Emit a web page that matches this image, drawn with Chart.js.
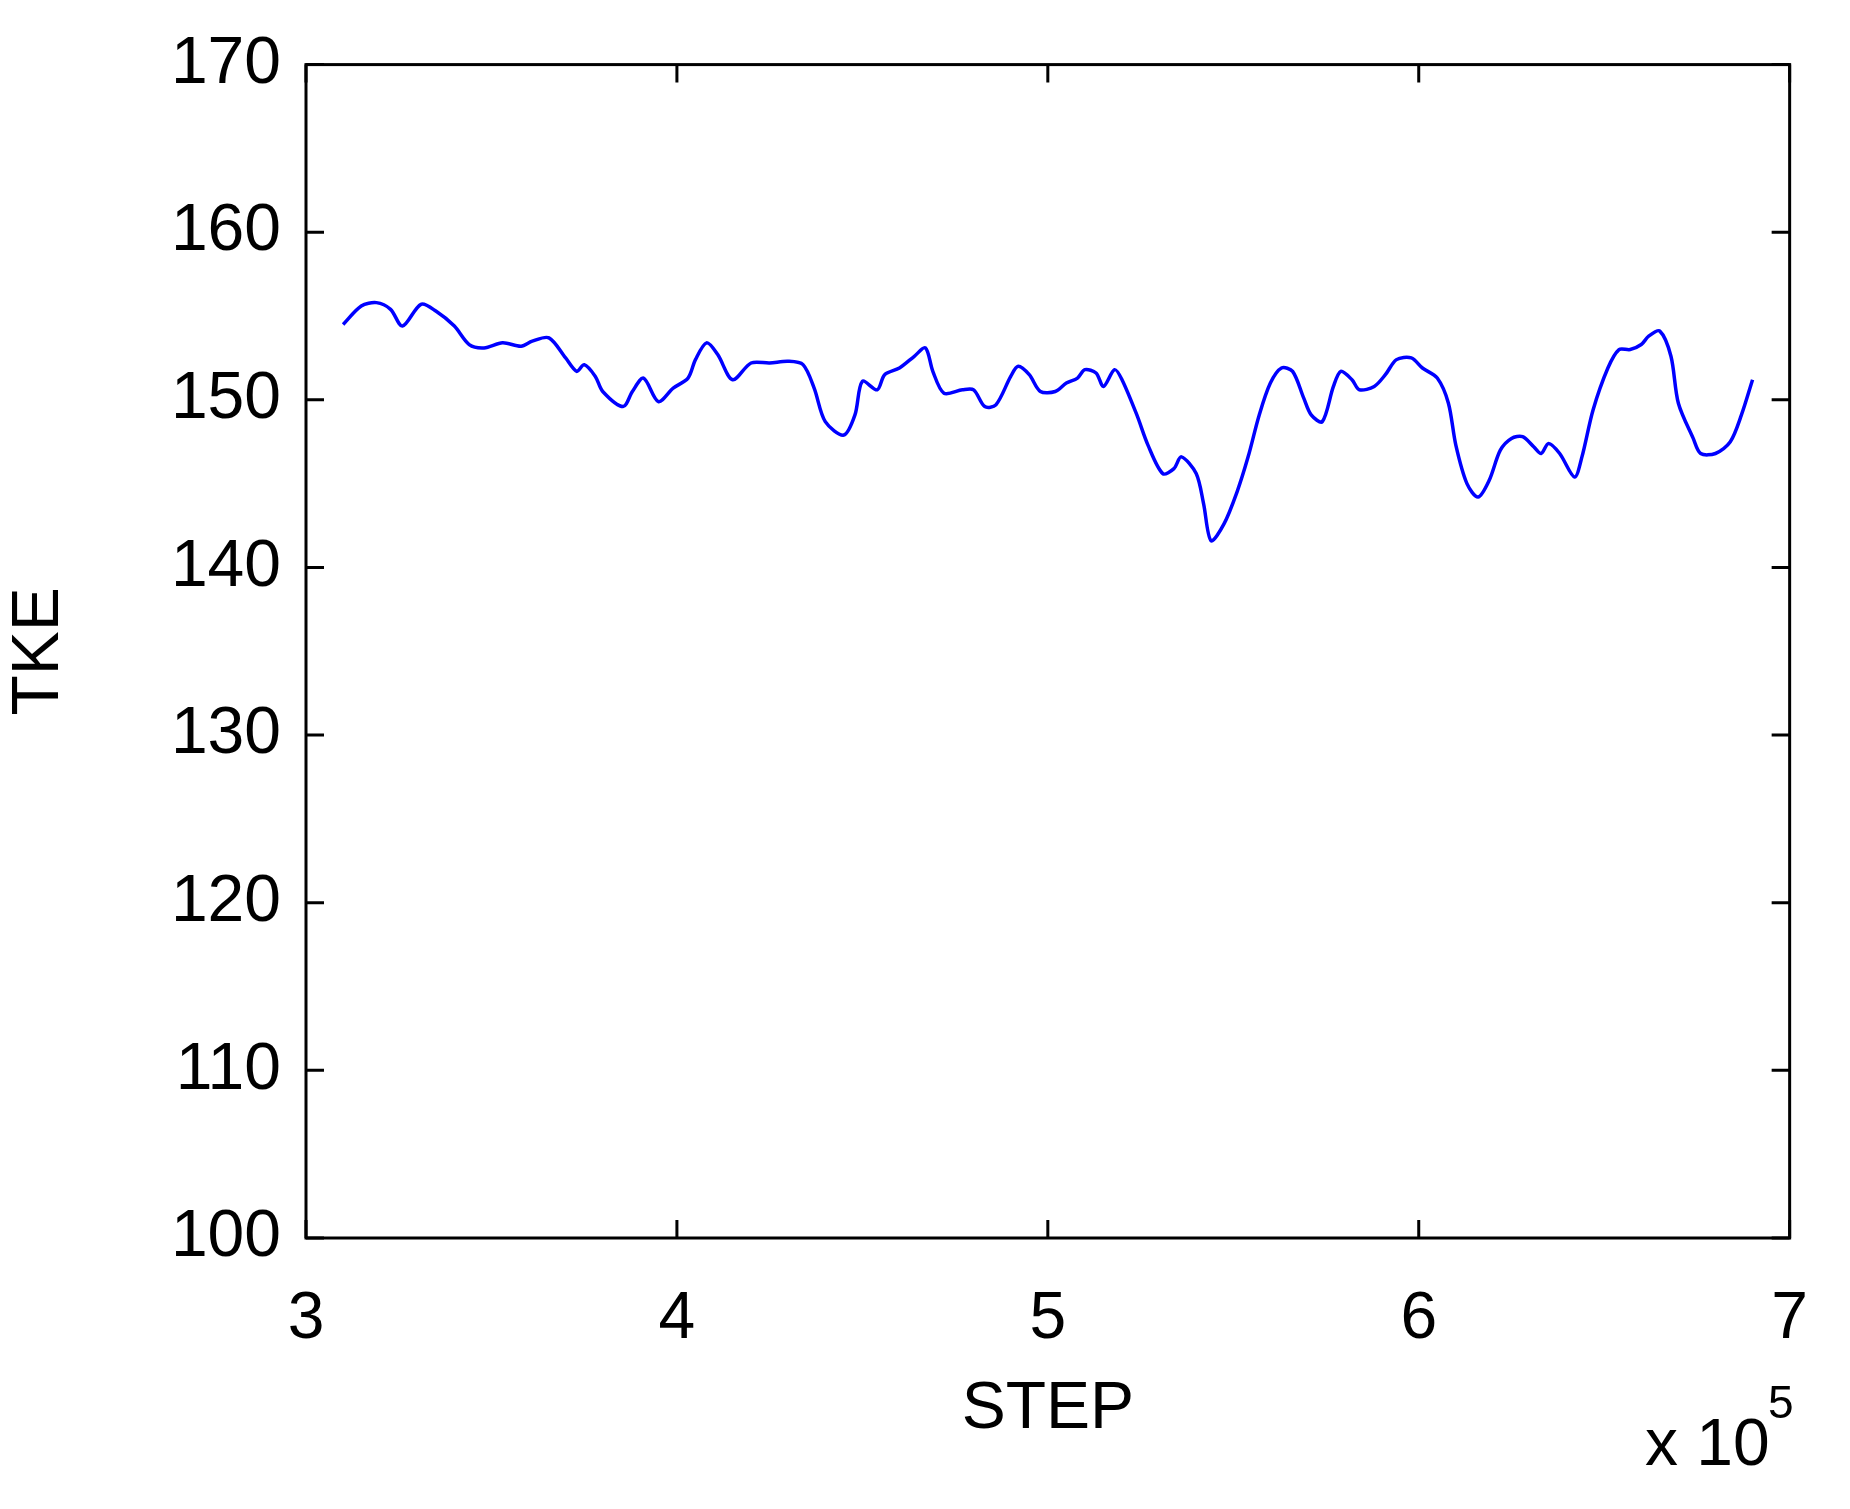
<!DOCTYPE html>
<html><head><meta charset="utf-8">
<script src="https://cdn.jsdelivr.net/npm/chart.js@4"></script>
<style>html,body{margin:0;padding:0;background:#fff}#w{width:1850px;height:1509px}</style>
</head><body><div id="w"><canvas id="c"></canvas></div>
<script>
const steps=[3.10,3.149,3.19,3.228,3.26,3.31,3.35,3.40,3.44,3.48,3.53,3.58,3.61,3.655,3.70,3.73,3.75,3.78,3.80,3.855,3.88,3.91,3.95,3.99,4.03,4.05,4.08,4.11,4.15,4.20,4.25,4.30,4.34,4.37,4.40,4.45,4.48,4.50,4.54,4.56,4.60,4.64,4.67,4.69,4.72,4.77,4.80,4.83,4.86,4.90,4.92,4.95,4.98,5.02,5.05,5.08,5.10,5.13,5.15,5.18,5.20,5.24,5.27,5.31,5.34,5.36,5.40,5.42,5.44,5.475,5.51,5.54,5.57,5.60,5.63,5.66,5.69,5.71,5.74,5.77,5.79,5.82,5.84,5.88,5.91,5.94,5.98,6.01,6.05,6.08,6.10,6.13,6.16,6.19,6.22,6.25,6.28,6.31,6.33,6.35,6.38,6.42,6.44,6.47,6.51,6.54,6.57,6.60,6.62,6.65,6.68,6.70,6.74,6.76,6.80,6.84,6.87,6.90];
const tke=[154.5,155.6,155.8,155.4,154.4,155.7,155.3,154.4,153.3,153.1,153.4,153.2,153.5,153.7,152.5,151.7,152.1,151.4,150.5,149.6,150.5,151.3,149.9,150.7,151.3,152.4,153.4,152.7,151.2,152.2,152.2,152.3,152.1,150.7,148.7,147.9,149.1,151.1,150.6,151.5,151.9,152.6,153.1,151.7,150.4,150.6,150.6,149.6,149.7,151.4,152.0,151.5,150.5,150.5,151.0,151.3,151.8,151.6,150.8,151.8,151.2,149.1,147.3,145.6,145.9,146.6,145.6,143.8,141.6,142.6,144.5,146.6,149.1,151.0,151.9,151.7,150.1,149.1,148.7,150.8,151.7,151.2,150.6,150.8,151.5,152.4,152.5,151.9,151.3,149.8,147.3,145.0,144.2,145.2,147.0,147.7,147.8,147.2,146.8,147.4,146.8,145.4,146.6,149.4,151.9,153.0,153.0,153.3,153.8,154.1,152.6,149.8,147.7,146.8,146.8,147.5,149.1,151.2];
const xTicks=[3,4,5,6,7];
const yTicks=[100,110,120,130,140,150,160,170];
const F='"Liberation Sans", Arial, sans-serif';
const frame={id:'frame',afterDatasetsDraw(ch){
  const {ctx,chartArea:a,scales:{x,y}}=ch;const L=18;
  ctx.save();ctx.strokeStyle='#000';ctx.lineWidth=3;
  ctx.strokeRect(a.left,a.top,a.right-a.left,a.bottom-a.top);
  ctx.beginPath();
  xTicks.forEach(t=>{const p=x.getPixelForValue(t*1e5);ctx.moveTo(p,a.bottom);ctx.lineTo(p,a.bottom-L);ctx.moveTo(p,a.top);ctx.lineTo(p,a.top+L);});
  yTicks.forEach(t=>{const p=y.getPixelForValue(t);ctx.moveTo(a.left,p);ctx.lineTo(a.left+L,p);ctx.moveTo(a.right,p);ctx.lineTo(a.right-L,p);});
  ctx.stroke();
  ctx.fillStyle='#000';ctx.textAlign='right';ctx.textBaseline='alphabetic';
  ctx.font='66px '+F;ctx.fillText('x 10',a.right-20,1465);
  ctx.font='46px '+F;ctx.fillText('5',a.right+4,1418);
  ctx.restore();}};
new Chart(document.getElementById('c'),{type:'line',
 data:{datasets:[{data:steps.map((s,i)=>({x:s*1e5,y:tke[i]})),borderColor:'#0000ff',borderWidth:3.5,pointRadius:0,tension:0.3,fill:false}]},
 options:{responsive:true,maintainAspectRatio:false,animation:false,
  layout:{padding:{left:0,top:56,right:45,bottom:0}},
  plugins:{legend:{display:false},tooltip:{enabled:false}},
  scales:{
   x:{type:'linear',min:3e5,max:7e5,afterFit(s){s.height=271;},
      afterBuildTicks(s){s.ticks=xTicks.map(v=>({value:v*1e5}));},
      grid:{display:false,drawTicks:false},border:{display:false},
      ticks:{padding:42,color:'#000',font:{family:F,size:66},callback:v=>String(v/1e5),maxRotation:0},
      title:{display:true,text:'STEP',color:'#000',font:{family:F,size:66},padding:{top:0,bottom:60}}},
   y:{min:100,max:170,afterFit(s){s.width=306;},
      afterBuildTicks(s){s.ticks=yTicks.map(v=>({value:v}));},
      grid:{display:false,drawTicks:false},border:{display:false},
      ticks:{padding:25,color:'#000',font:{family:F,size:66}},
      title:{display:true,text:'TKE',color:'#000',font:{family:F,size:66},padding:{top:0,bottom:0}}}
  }},plugins:[frame]});
</script></body></html>
